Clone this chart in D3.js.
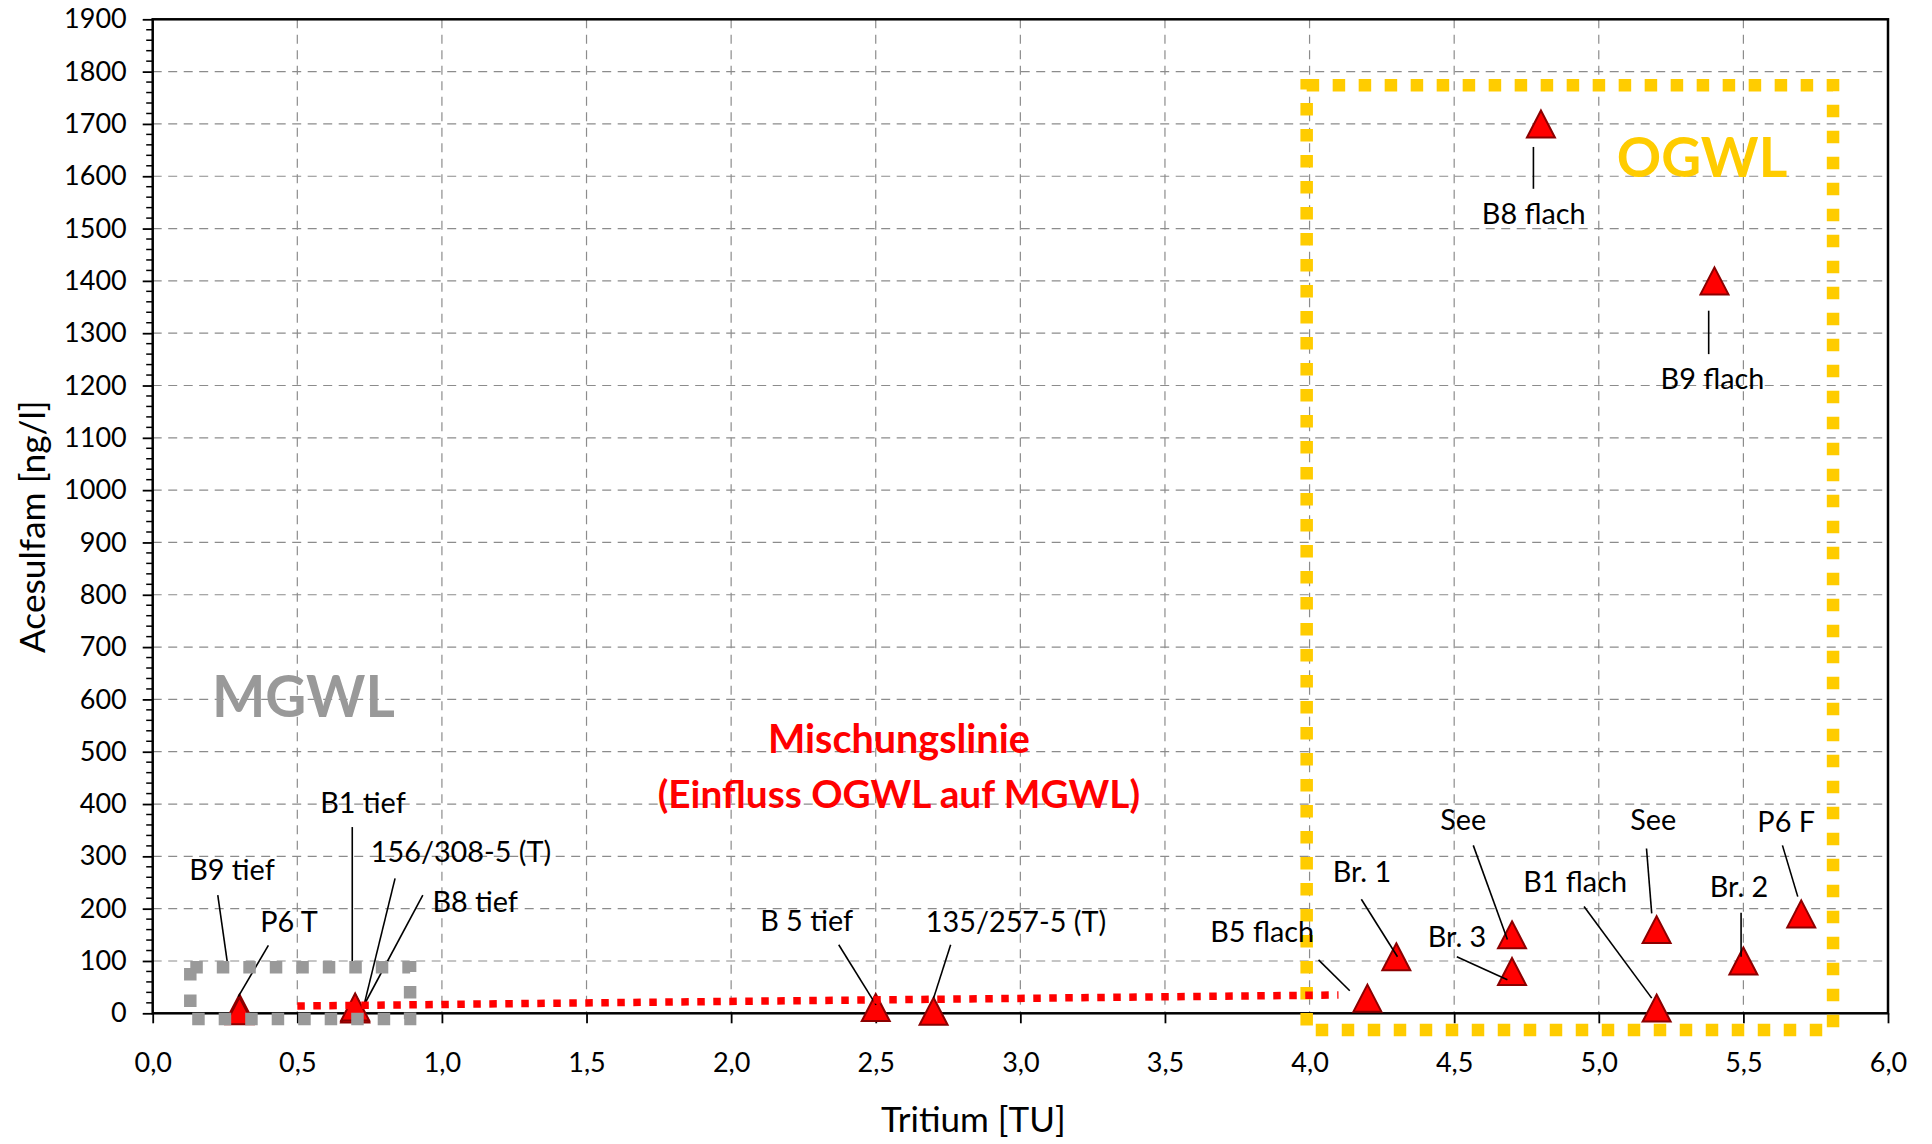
<!DOCTYPE html>
<html>
<head>
<meta charset="utf-8">
<script src="https://cdn.jsdelivr.net/npm/d3@7"></script>
<style>
  html, body { margin: 0; padding: 0; background: #fff; }
  svg { display: block; font-family: Lato, "Open Sans", sans-serif; }
</style>
</head>
<body>
<svg id="chart" width="1932" height="1144"></svg>
<script>
// Sampling sites: tritium [TU] against acesulfame [ng/l]
const sites     = ["P6 T", "B9 tief", "B1 tief", "156/308-5 (T)", "B8 tief", "B 5 tief", "135/257-5 (T)",
                   "B5 flach", "Br. 1", "See", "Br. 3", "B8 flach", "B1 flach", "See", "B9 flach", "Br. 2", "P6 F"];
const tritium   = [0.3, 0.3, 0.7, 0.7, 0.7, 2.5, 2.7, 4.2, 4.3, 4.7, 4.7, 4.8, 5.2, 5.2, 5.4, 5.5, 5.7];
const acesulfam = [10, 5, 10, 8, 12, 11, 4, 29, 108, 150, 80, 1700, 10, 160, 1400, 100, 190];

// Data-label anchors (text centre / baseline), in data units
const labelX = [0.471, 0.274, 0.727, 1.066, 1.115, 2.261, 2.985, 3.836, 4.181, 4.531, 4.510, 4.775, 4.918, 5.188, 5.393, 5.485, 5.648];
const labelY = [155, 255, 383, 289, 194, 157, 156, 136, 251, 350, 127, 1509, 232, 350, 1194, 223, 347];

// Leader lines from label to marker, in data units
const leadX1 = [0.400, 0.225, 0.690, 0.838, 0.934, 2.372, 2.759, 4.031, 4.179, 4.566, 4.509, 4.774, 4.949, 5.165, 5.380, 5.492, 5.635];
const leadY1 = [130, 226, 356, 258, 226, 131, 131, 102, 218, 321, 108, 1656, 204, 315, 1343, 192, 321];
const leadX2 = [0.296, 0.261, 0.690, 0.728, 0.728, 2.501, 2.700, 4.139, 4.304, 4.684, 4.684, 4.774, 5.183, 5.183, 5.380, 5.492, 5.688];
const leadY2 = [32, 86, 89, 10, 13, 16, 29, 43, 108, 141, 64, 1576, 29, 191, 1260, 108, 223];

// Axis ticks
const xTicks = [0, 0.5, 1, 1.5, 2, 2.5, 3, 3.5, 4, 4.5, 5, 5.5, 6];
const yTicks = [0, 100, 200, 300, 400, 500, 600, 700, 800, 900, 1000, 1100, 1200, 1300, 1400, 1500, 1600, 1700, 1800, 1900];

// Mixing line and groundwater-body outlines (data units)
const mixTritium   = [0.5, 4.1];
const mixAcesulfam = [14, 35];
const mgwlBoxX = [0.13, 0.89];
const mgwlBoxY = [-11, 88];
const ogwlBoxX = [3.99, 5.81];
const ogwlBoxY = [-32, 1774];

// ---- layout ----
const plotLeft = 152.7, plotRight = 1888, plotTop = 19.3, plotBottom = 1013.3;

const svg = d3.select("#chart");
const x = d3.scaleLinear().domain([0, 6]).range([plotLeft, plotRight]);
const y = d3.scaleLinear().domain([0, 1900]).range([plotBottom, plotTop]);

const gridColor = "#8c8c8c";

// grid
const grid = svg.append("g");
grid.append("g").selectAll("line").data(yTicks.filter(v => v > 0 && v < 1900)).join("line")
  .attr("x1", plotLeft).attr("x2", plotRight)
  .attr("y1", d => y(d)).attr("y2", d => y(d))
  .attr("stroke", gridColor).attr("stroke-width", 1.2).attr("stroke-dasharray", "9 6.5");
grid.append("g").selectAll("line").data(xTicks.filter(v => v > 0 && v < 6)).join("line")
  .attr("x1", d => x(d)).attr("x2", d => x(d))
  .attr("y1", plotTop).attr("y2", plotBottom)
  .attr("stroke", gridColor).attr("stroke-width", 1.2).attr("stroke-dasharray", "9 6.5");

// minor ticks on the value axis
const minor = d3.range(0, 1900, 20).filter(v => v % 100 !== 0);
svg.append("g").selectAll("line").data(minor).join("line")
  .attr("x1", plotLeft - 6.5).attr("x2", plotLeft)
  .attr("y1", d => y(d)).attr("y2", d => y(d))
  .attr("stroke", "#000").attr("stroke-width", 1.5);

// axes
const fmtComma = d => d3.format(".1f")(d).replace(".", ",");
const xAxis = svg.append("g").attr("transform", `translate(0,${plotBottom})`)
  .call(d3.axisBottom(x).tickValues(xTicks).tickFormat(fmtComma).tickSize(10).tickPadding(30).tickSizeOuter(0));
const yAxis = svg.append("g").attr("transform", `translate(${plotLeft},0)`)
  .call(d3.axisLeft(y).tickValues(yTicks).tickFormat(d3.format("d")).tickSize(10).tickPadding(16).tickSizeOuter(0));
[xAxis, yAxis].forEach(g => {
  g.select(".domain").remove();
  g.selectAll(".tick line").attr("stroke", "#000").attr("stroke-width", 1.8);
  g.selectAll(".tick text").attr("font-size", 27).attr("fill", "#000").attr("font-family", "Lato");
});

// plot frame
svg.append("rect")
  .attr("x", plotLeft).attr("y", plotTop).attr("width", plotRight - plotLeft).attr("height", plotBottom - plotTop)
  .attr("fill", "none").attr("stroke", "#000").attr("stroke-width", 2.5);

// markers
const tri = "M0,-13.5L14,13.5L-14,13.5Z";
const idx = d3.range(sites.length);
svg.append("g").selectAll("path").data(idx).join("path")
  .attr("d", tri)
  .attr("transform", i => `translate(${x(tritium[i])},${y(acesulfam[i])})`)
  .attr("fill", "#ff0000").attr("stroke", "#8b0000").attr("stroke-width", 2).attr("stroke-linejoin", "miter");

// leader lines
svg.append("g").selectAll("line").data(idx).join("line")
  .attr("x1", i => x(leadX1[i])).attr("y1", i => y(leadY1[i]))
  .attr("x2", i => x(leadX2[i])).attr("y2", i => y(leadY2[i]))
  .attr("stroke", "#000").attr("stroke-width", 1.6);

// groundwater-body outlines
function boxPath(bx, by) {
  return `M${x(bx[0])},${y(by[1])}H${x(bx[1])}V${y(by[0])}H${x(bx[0])}Z`;
}
svg.append("path").attr("d", boxPath(ogwlBoxX, ogwlBoxY))
  .attr("fill", "none").attr("stroke", "#ffcc00").attr("stroke-width", 12.5)
  .attr("stroke-dasharray", "12.5 13.5");

// mixing line
const mix = d3.line().x(d => x(d[0])).y(d => y(d[1]));
svg.append("path").attr("d", mix(mixTritium.map((t, i) => [t, mixAcesulfam[i]])))
  .attr("fill", "none").attr("stroke", "#ff0000").attr("stroke-width", 7.5)
  .attr("stroke-dasharray", "7.5 8.5");

svg.append("path").attr("d", boxPath(mgwlBoxX, mgwlBoxY))
  .attr("fill", "none").attr("stroke", "#999999").attr("stroke-width", 12.5)
  .attr("stroke-dasharray", "12.5 14");

// data labels
svg.append("g").selectAll("text").data(idx).join("text")
  .attr("x", i => x(labelX[i])).attr("y", i => y(labelY[i]))
  .attr("text-anchor", "middle").attr("font-size", 28.8).attr("fill", "#000")
  .text(i => sites[i]);

// annotations
svg.append("text").attr("x", x(0.521)).attr("y", y(567))
  .attr("text-anchor", "middle").attr("font-size", 56.5).attr("font-weight", 700).attr("fill", "#999999")
  .text("MGWL");
svg.append("text").attr("x", x(5.357)).attr("y", y(1598))
  .attr("text-anchor", "middle").attr("font-size", 55).attr("font-weight", 700).attr("fill", "#ffcc00")
  .text("OGWL");
const mixLabel = svg.append("g").attr("fill", "#ff0000").attr("font-weight", 700)
  .attr("text-anchor", "middle");
mixLabel.append("text").attr("x", x(2.58)).attr("y", y(497)).attr("font-size", 39.5).text("Mischungslinie");
mixLabel.append("text").attr("x", x(2.58)).attr("y", y(392)).attr("font-size", 38.8).text("(Einfluss OGWL auf MGWL)");

// axis titles
svg.append("text").attr("x", 973.3).attr("y", 1131.7)
  .attr("text-anchor", "middle").attr("font-size", 35).attr("fill", "#000")
  .text("Tritium [TU]");
svg.append("text").attr("transform", "translate(45,526.7) rotate(-90)")
  .attr("text-anchor", "middle").attr("font-size", 35.3).attr("fill", "#000")
  .text("Acesulfam [ng/l]");
</script>
</body>
</html>
